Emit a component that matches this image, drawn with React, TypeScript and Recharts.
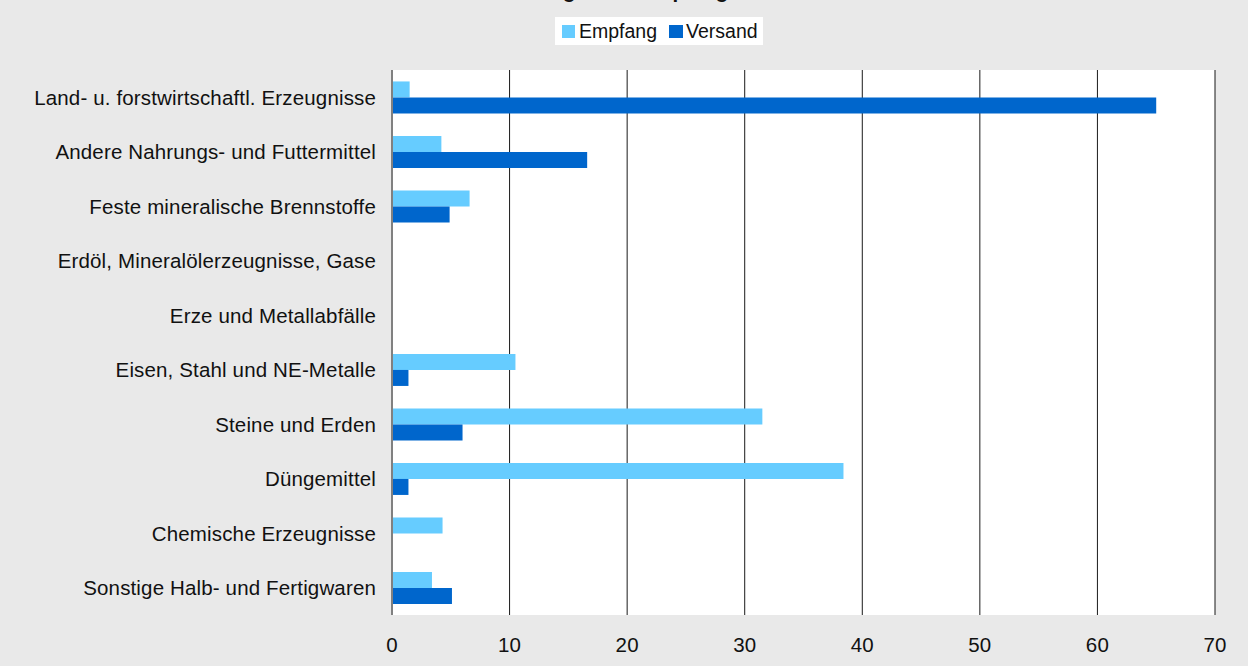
import React from 'react';
import { BarChart, Bar, XAxis, YAxis, CartesianGrid } from 'recharts';

const categories = [
  'Land- u. forstwirtschaftl. Erzeugnisse',
  'Andere Nahrungs- und Futtermittel',
  'Feste mineralische Brennstoffe',
  'Erdöl, Mineralölerzeugnisse, Gase',
  'Erze und Metallabfälle',
  'Eisen, Stahl und NE-Metalle',
  'Steine und Erden',
  'Düngemittel',
  'Chemische Erzeugnisse',
  'Sonstige Halb- und Fertigwaren',
];
const empfang = [1.5, 4.2, 6.6, 0, 0, 10.5, 31.5, 38.4, 4.3, 3.4];
const versand = [65.0, 16.6, 4.9, 0, 0, 1.4, 6.0, 1.4, 0, 5.1];
const xTicks = [0, 10, 20, 30, 40, 50, 60, 70];
const seriesNames = ['Empfang', 'Versand'];
const title = 'Anteile der Güterabteilungen am Empfang und Versand in Prozent';

const data = categories.map((name, i) => ({ name, Empfang: empfang[i], Versand: versand[i] }));

const FONT = '"Liberation Sans", Arial, sans-serif';
const C_EMP = '#66CCFF';
const C_VER = '#0066CC';

const LegendBox = () => (
  <div
    style={{
      position: 'absolute',
      top: 17,
      left: 555,
      display: 'inline-flex',
      alignItems: 'center',
      background: '#fff',
      height: 28,
      padding: '0 5px 0 7px',
      fontFamily: FONT,
      fontSize: 19.5,
      color: '#111',
      whiteSpace: 'nowrap',
    }}
  >
    <span style={{ width: 13, height: 13, background: C_EMP, display: 'inline-block', marginRight: 4 }} />
    <span style={{ marginRight: 12 }}>{seriesNames[0]}</span>
    <span style={{ width: 14, height: 13, background: C_VER, display: 'inline-block', marginRight: 3 }} />
    <span>{seriesNames[1]}</span>
  </div>
);

const tickStyle = { fill: '#111', fontSize: 20.5, fontFamily: FONT, letterSpacing: 0.15 };

export default function App() {
  return (
    <div style={{ position: 'absolute', left: 0, top: 0, width: 1248, height: 666, background: '#e9e9e9', overflow: 'hidden' }}>
      <BarChart
        width={1248}
        height={666}
        data={data}
        layout="vertical"
        margin={{ top: 70, right: 33, left: 0, bottom: 0 }}
        barCategoryGap="21%"
        barGap={0}
      >
        <CartesianGrid horizontal={false} vertical={true} stroke="#000" strokeOpacity={0.9} fill="#fff" fillOpacity={1} />
        <XAxis
          type="number"
          domain={[0, 70]}
          ticks={xTicks}
          height={51}
          axisLine={false}
          tickLine={false}
          tickSize={0}
          tickMargin={22}
          tick={tickStyle}
          interval={0}
        />
        <YAxis
          type="category"
          dataKey="name"
          width={392}
          axisLine={{ stroke: '#808080', strokeWidth: 2 }}
          tickLine={false}
          tickSize={0}
          tickMargin={16}
          tick={tickStyle}
          interval={0}
        />
        <Bar dataKey="Empfang" fill={C_EMP} isAnimationActive={false} />
        <Bar dataKey="Versand" fill={C_VER} isAnimationActive={false} />
      </BarChart>
      <div
        style={{
          position: 'absolute',
          top: -19,
          left: 640,
          transform: 'translateX(-50%)',
          whiteSpace: 'nowrap',
          fontFamily: FONT,
          fontWeight: 'bold',
          fontSize: 20.5,
          lineHeight: '20px',
          color: '#111',
        }}
      >
        {title}
      </div>
      <LegendBox />
    </div>
  );
}
